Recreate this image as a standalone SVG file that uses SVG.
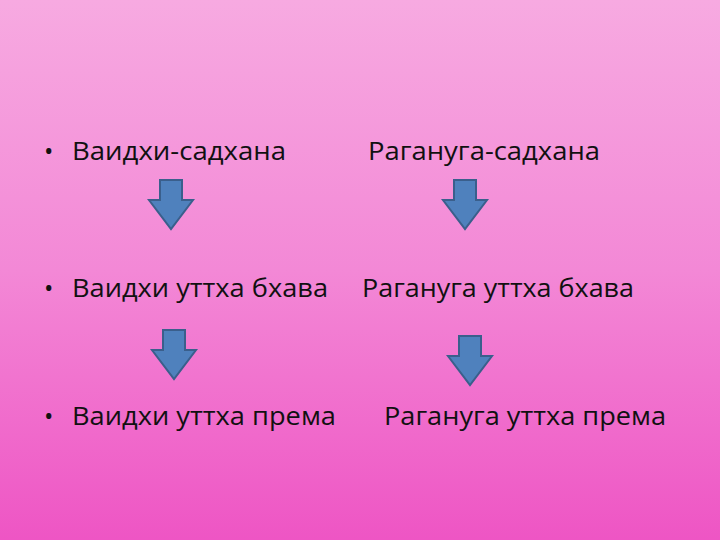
<svg xmlns="http://www.w3.org/2000/svg" width="720" height="540" viewBox="0 0 720 540">
<defs>
<linearGradient id="bg" x1="0" y1="0" x2="0" y2="1">
<stop offset="0" stop-color="#f7aae1"/><stop offset="0.5" stop-color="#f388d6"/><stop offset="1" stop-color="#ee55c4"/>
</linearGradient>
<path id="arr" d="M-11,0 H11 V20 H22 L0,49 L-22,20 H-11 Z"/>
</defs>
<style>
.t{font-family:"Open Sans","Liberation Sans",sans-serif;font-size:25px;fill:#111}
.a{fill:#4f81bd;stroke:#3a5f8c;stroke-width:2}
</style>
<rect width="720" height="540" fill="url(#bg)"/>
<g id="l1"><text class="t" x="44" y="160">•</text><text class="t" x="72" y="160" textLength="214" lengthAdjust="spacingAndGlyphs">Ваидхи-садхана</text></g>
<g id="r1"><text class="t" x="368" y="160" textLength="232" lengthAdjust="spacingAndGlyphs">Рагануга-садхана</text></g>
<g id="l2"><text class="t" x="44" y="297">•</text><text class="t" x="72" y="297" textLength="256" lengthAdjust="spacingAndGlyphs">Ваидхи уттха бхава</text></g>
<g id="r2"><text class="t" x="362" y="297" textLength="272" lengthAdjust="spacingAndGlyphs">Рагануга уттха бхава</text></g>
<g id="l3"><text class="t" x="44" y="425">•</text><text class="t" x="72" y="425" textLength="264" lengthAdjust="spacingAndGlyphs">Ваидхи уттха према</text></g>
<g id="r3"><text class="t" x="384" y="425" textLength="282" lengthAdjust="spacingAndGlyphs">Рагануга уттха према</text></g>
<g id="connectors">
<use href="#arr" class="a" transform="translate(171,180)"/>
<use href="#arr" class="a" transform="translate(465,180)"/>
<use href="#arr" class="a" transform="translate(174,330)"/>
<use href="#arr" class="a" transform="translate(470,336)"/>
</g>
</svg>
